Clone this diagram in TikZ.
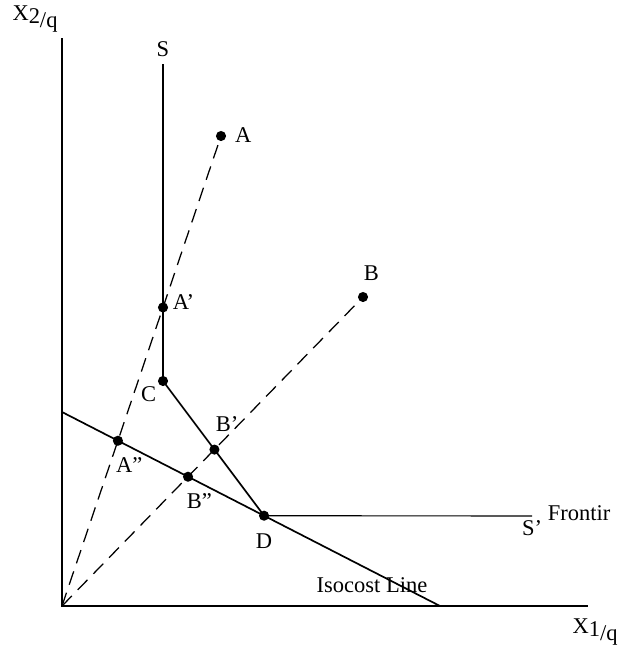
\documentclass[tikz,border=0pt]{standalone}
\usepackage{fontspec}
\setmainfont{Liberation Serif}
\usepackage{tikz}
\usetikzlibrary{positioning, calc}

\begin{document}
\begin{tikzpicture}[
    x=0.025cm, y=-0.025cm,
    axis/.style={line width=1.4pt},
    isoq/.style={line width=1.2pt},
    ray/.style={line width=0.9pt, dash pattern=on 10pt off 6pt},
    dot/.style={circle, fill=black, inner sep=0pt, minimum size=7.2pt},
    lbl/.style={inner sep=1pt, font=\fontsize{16}{18}\selectfont},
]
\useasboundingbox (0,0) rectangle (620,652);

% axes
\coordinate (O) at (62,606);
\coordinate (y-top) at (62,38);
\coordinate (x-end) at (588,606);
\draw[axis] (y-top) -- (O) -- (x-end);
\node[lbl] (y-lbl) at (35,19) {X\raisebox{-0.35ex}{2}\raisebox{-0.75ex}{/q}};
\node[lbl] (x-lbl) at (595,632) {X\raisebox{-0.35ex}{1}\raisebox{-0.75ex}{/q}};

% isoquant S-C-D-S'
\coordinate (S-top) at (163,64);
\node[dot] (C) at (163,381) {};
\coordinate (iso-a) at (62,412);
\coordinate (iso-b) at (440,606);
\node[dot] (D) at ($(iso-a)!0.5345!(iso-b)$) {};
\coordinate (Sp) at (532,516);
\draw[isoq] (S-top) -- (C.center) -- (D.center);
\draw[line width=0.8pt] (D.center) -- (Sp);

% isocost line
\draw[isoq] (iso-a) -- (iso-b);

% observed firms and rays
\node[dot] (A) at (221,136) {};
\node[dot] (B) at (363,297) {};
\draw[ray] (O) -- (A.center);
\draw[ray] (O) -- (B.center);

\node[dot] (A1) at (intersection of O--A and S-top--C) {};
\node[dot] (B1) at (intersection of O--B and C--D) {};
\node[dot] (A2) at (intersection of O--A and iso-a--iso-b) {};
\node[dot] (B2) at (intersection of O--B and iso-a--iso-b) {};

% labels
\node[lbl, above=4pt of S-top] (S-lbl) {S};
\node[lbl, right=5pt of A, yshift=1pt] (A-lbl) {A};
\node[lbl, above=7pt of B, xshift=6pt] (B-lbl) {B};
\node[lbl, right=2pt of A1, yshift=4pt] (A1-lbl) {A’};
\node[lbl, below left=0pt and 1pt of C] (C-lbl) {C};
\node[lbl, above=8pt of B1, xshift=9pt] (B1-lbl) {B’};
\node[lbl, below=7pt of A2, xshift=8pt] (A2-lbl) {A”};
\node[lbl, below=7pt of B2, xshift=8pt] (B2-lbl) {B”};
\node[lbl, below=8pt of D] (D-lbl) {D};
\node[lbl, below=2pt of Sp] (Sp-lbl) {S’};
\node[lbl, right=10pt of Sp, yshift=2pt] (front-lbl) {Frontir};
\node[lbl] (iso-lbl) at (372,585) {Isocost Line};
\end{tikzpicture}
\end{document}
